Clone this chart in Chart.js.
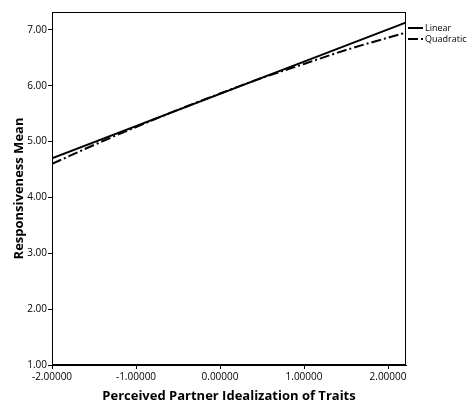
<!DOCTYPE html>
<html>
<head>
<meta charset="utf-8">
<script src="https://cdn.jsdelivr.net/npm/chart.js@4/dist/chart.umd.min.js"></script>
<style>
  html, body { margin: 0; padding: 0; background: #fff; }
  #wrap { width: 474px; height: 407px; }
</style>
</head>
<body>
<div id="wrap"><canvas id="fit-chart" width="474" height="407"></canvas></div>
<script>
const linearX = [-2.0, 2.21];
const linearY = [4.70, 7.13];

const quadX = [-2.0, -1.5, -1.0, -0.5, 0.0, 0.5, 1.0, 1.5, 2.0, 2.21];
const quadY = [4.60, 4.94, 5.26, 5.57, 5.86, 6.14, 6.39, 6.64, 6.86, 6.95];

const xTicks = [-2, -1, 0, 1, 2];
const yTicks = [1, 2, 3, 4, 5, 6, 7];

const seriesNames = ['Linear', 'Quadratic'];

const FONT = '"Open Sans", "DejaVu Sans", sans-serif';

function toPoints(xs, ys) {
    return xs.map((x, i) => ({ x: x, y: ys[i] }));
}

// box round the plot + legend at the right, SPSS style
const frameAndLegend = {
    id: 'frameAndLegend',
    afterDraw(chart) {
        const ctx = chart.ctx;
        const a = chart.chartArea;
        ctx.save();
        ctx.strokeStyle = '#000';
        ctx.lineWidth = 1;
        ctx.strokeRect(a.left + 0.5, a.top + 0.5, a.right - a.left - 1, a.bottom - a.top - 1);

        ctx.font = '9px ' + FONT;
        ctx.fillStyle = '#000';
        ctx.textBaseline = 'middle';
        chart.data.datasets.forEach((ds, i) => {
            const y = 28 + i * 11;
            ctx.beginPath();
            ctx.lineWidth = 2;
            ctx.setLineDash(ds.borderDash || []);
            ctx.moveTo(a.right + 2, y);
            ctx.lineTo(a.right + 17, y);
            ctx.stroke();
            ctx.setLineDash([]);
            ctx.fillText(seriesNames[i], a.right + 19, y);
        });
        ctx.restore();
    }
};

const ctx = document.getElementById('fit-chart').getContext('2d');
new Chart(ctx, {
    type: 'line',
    data: {
        datasets: [{
            label: seriesNames[0],
            data: toPoints(linearX, linearY),
            borderColor: '#000',
            borderWidth: 2,
            pointRadius: 0,
            tension: 0,
            fill: false
        }, {
            label: seriesNames[1],
            data: toPoints(quadX, quadY),
            borderColor: '#000',
            borderWidth: 2,
            borderDash: [10, 3, 2, 3],
            pointRadius: 0,
            cubicInterpolationMode: 'monotone',
            fill: false
        }]
    },
    options: {
        responsive: false,
        animation: false,
        layout: { padding: { top: 12, right: 68, left: 0, bottom: 0 } },
        plugins: {
            legend: { display: false },
            tooltip: { enabled: false }
        },
        scales: {
            x: {
                type: 'linear',
                min: -2,
                max: 2.214,
                afterBuildTicks: s => { s.ticks = xTicks.map(v => ({ value: v })); },
                afterFit: s => { s.height = 42; },
                grid: { drawOnChartArea: false, color: '#000', tickLength: 4, tickWidth: 1 },
                border: { display: true, color: '#000', width: 1 },
                ticks: {
                    color: '#000',
                    padding: 2,
                    maxRotation: 0,
                    font: { family: FONT, size: 10 },
                    callback: v => v.toFixed(5)
                },
                title: {
                    display: true,
                    text: 'Perceived Partner Idealization of Traits',
                    color: '#000',
                    font: { family: FONT, size: 13, weight: 'bold' },
                    padding: { top: 2, bottom: 3 }
                }
            },
            y: {
                type: 'linear',
                min: 1,
                max: 7.32,
                afterBuildTicks: s => { s.ticks = yTicks.map(v => ({ value: v })); },
                afterFit: s => { s.width = 52; },
                grid: { drawOnChartArea: false, color: '#000', tickLength: 4, tickWidth: 1 },
                border: { display: true, color: '#000', width: 1 },
                ticks: {
                    color: '#000',
                    padding: 1,
                    font: { family: FONT, size: 10 },
                    callback: v => v.toFixed(2)
                },
                title: {
                    display: true,
                    text: 'Responsiveness Mean',
                    color: '#000',
                    font: { family: FONT, size: 13, weight: 'bold' },
                    padding: { top: 11, bottom: 4 }
                }
            }
        }
    },
    plugins: [frameAndLegend]
});
</script>
</body>
</html>
